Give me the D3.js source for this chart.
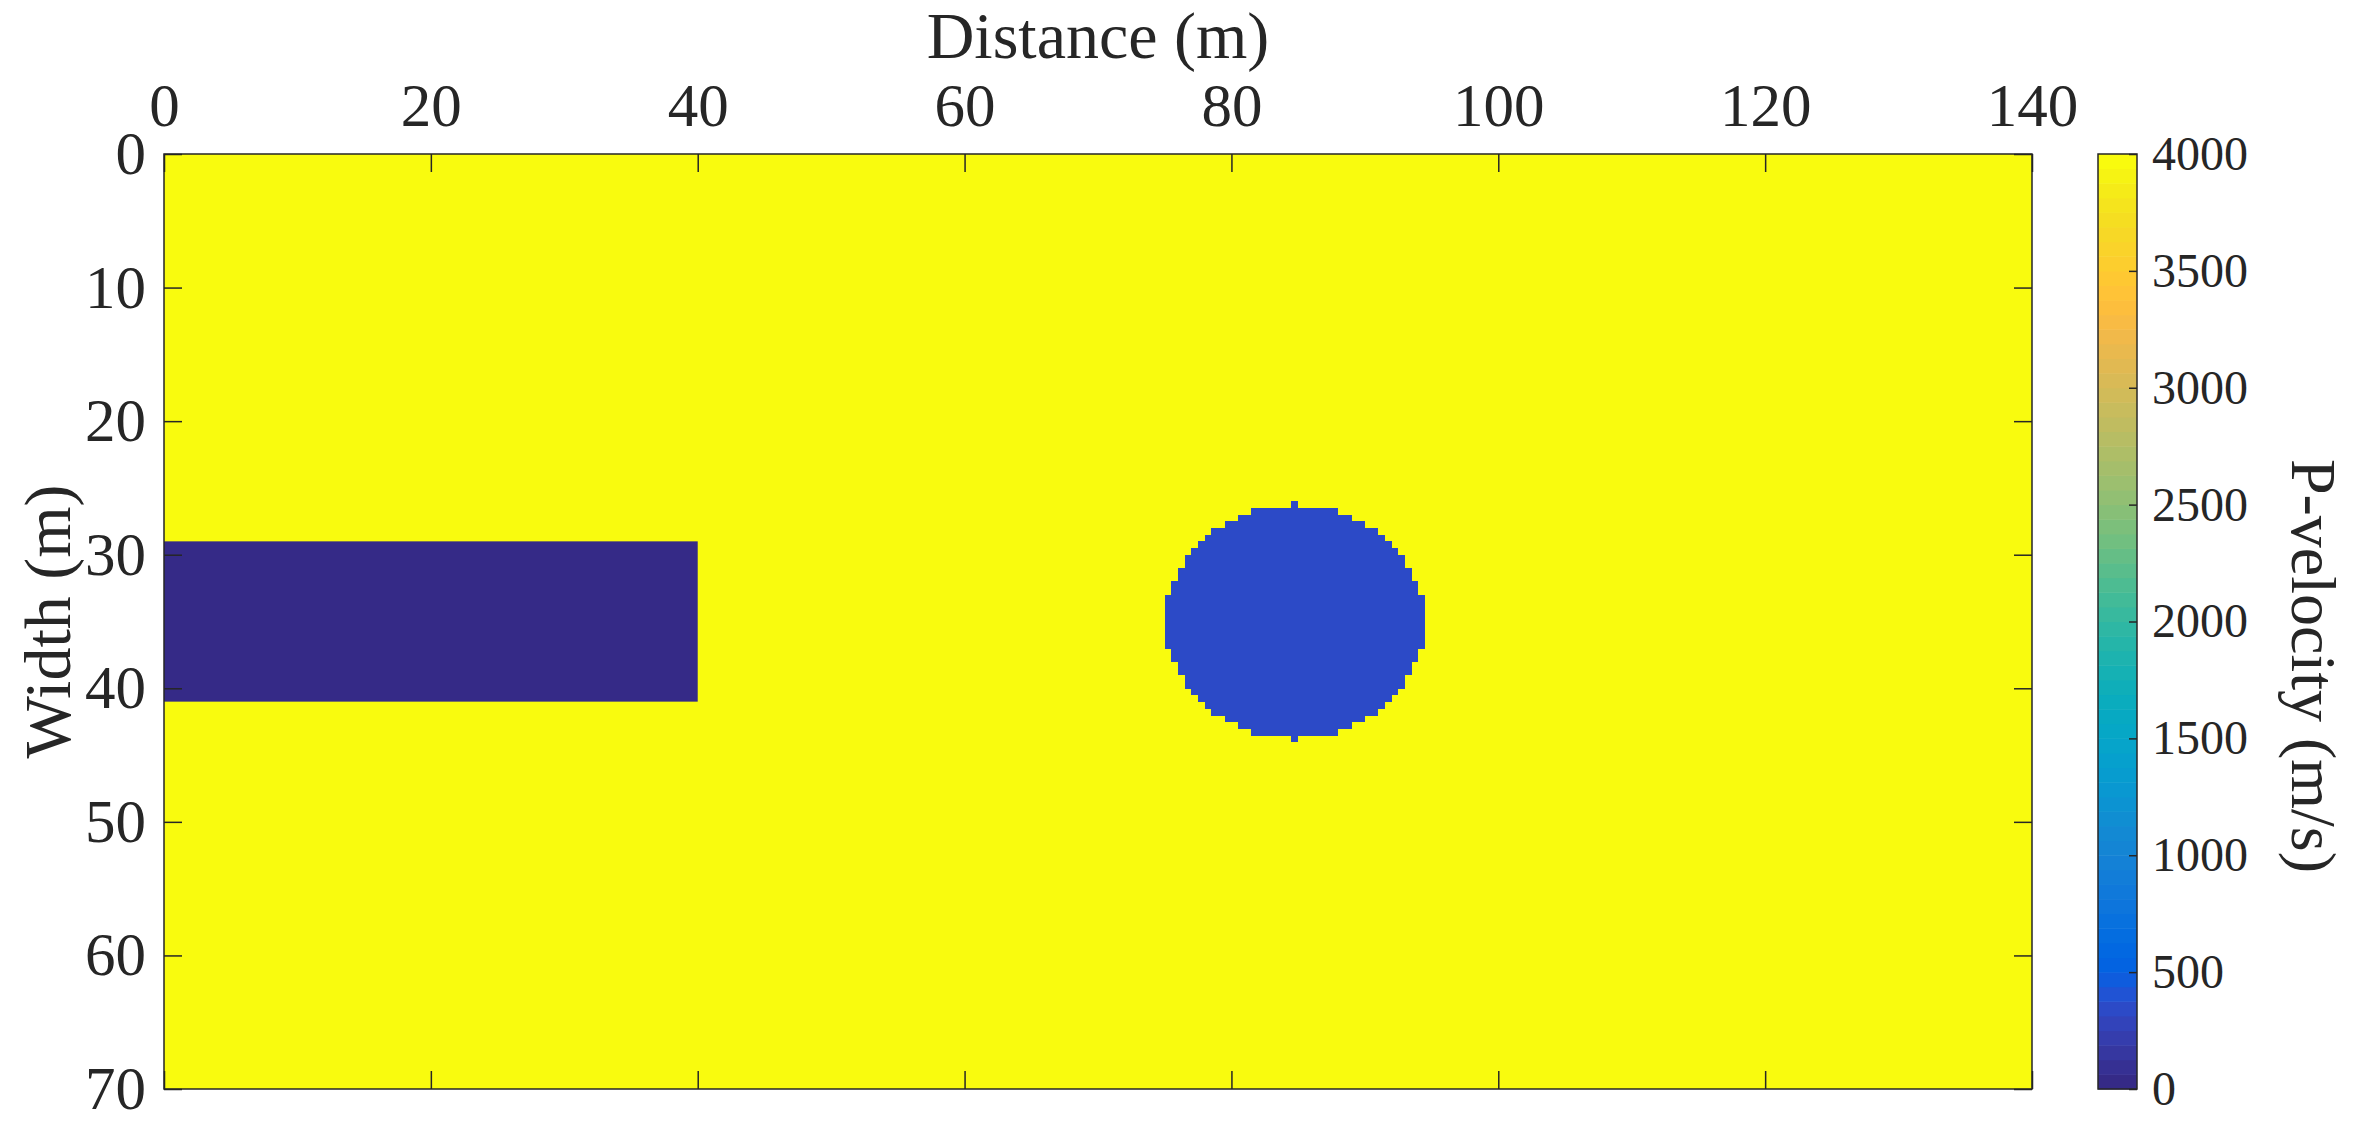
<!DOCTYPE html>
<html>
<head>
<meta charset="utf-8">
<script src="https://cdn.jsdelivr.net/npm/d3@7"></script>
<style>
  body { margin: 0; background: #fff; }
  svg text { font-family: 'Liberation Serif', 'Times New Roman', serif; fill: #262626; }
  .axis text { font-size: 61px; }
  .cb-axis text { font-size: 48px; }
  .axis-title { font-size: 66px; }
  .cb-title { font-size: 64px; }
  .axis line, .cb-axis line { stroke: #262626; stroke-width: 1.5; }
</style>
</head>
<body>
<div id="chart"></div>
<script>
// model extent (m) and ticks
const xDomain = [0, 140];
const yDomain = [0, 70];
const xTicks = [0, 20, 40, 60, 80, 100, 120, 140];
const yTicks = [0, 10, 20, 30, 40, 50, 60, 70];
const cbTicks = [0, 500, 1000, 1500, 2000, 2500, 3000, 3500, 4000];
const cbDomain = [0, 4000];

// background medium velocity (m/s)
const backgroundVelocity = 4000;

// rectangular block (tunnel)
const tunnelX = [0, 40];
const tunnelY = [29, 41];
const tunnelVelocity = 0;

// circular void, stored row by row (0.5 m cells)
const voidVelocity = 340;
const voidRowTop    = [26, 26.5, 27, 27.5, 28, 28.5, 29, 29.5, 30, 31, 32, 33, 37, 38, 39, 40, 40.5, 41, 41.5, 42, 42.5, 43, 43.5];
const voidRowBottom = [26.5, 27, 27.5, 28, 28.5, 29, 29.5, 30, 31, 32, 33, 37, 38, 39, 40, 40.5, 41, 41.5, 42, 42.5, 43, 43.5, 44];
const voidRowLeft   = [84.5, 81.5, 80.5, 79.5, 78.5, 78, 77.5, 77, 76.5, 76, 75.5, 75, 75.5, 76, 76.5, 77, 77.5, 78, 78.5, 79.5, 80.5, 81.5, 84.5];
const voidRowRight  = [85, 88, 89, 90, 91, 91.5, 92, 92.5, 93, 93.5, 94, 94.5, 94, 93.5, 93, 92.5, 92, 91.5, 91, 90, 89, 88, 85];

// parula colormap, 64 entries
const parula = ['#352a87','#363093','#3637a0','#353dad','#3243ba','#2c4ac7','#2053d4','#0f5cdd',
  '#0363e1','#0268e1','#046de0','#0871de','#0d75dc','#1079da','#127dd8','#1481d6',
  '#1485d4','#1389d3','#108ed2','#0c93d2','#0998d1','#079ccf','#06a0cd','#06a4ca',
  '#06a7c6','#07a9c2','#0aacbe','#0faeb9','#15b1b4','#1db3af','#25b5a9','#2eb7a4',
  '#38b99e','#42bb98','#4dbc92','#59bd8c','#65be86','#71bf80','#7cbf7b','#87bf77',
  '#92bf73','#9cbf6f','#a5be6b','#aebe67','#b7bd64','#c0bc60','#c8bc5d','#d1bb59',
  '#d9ba56','#e1b952','#e9b94e','#f1b94a','#f8bb44','#fdbe3d','#ffc337','#fec832',
  '#fcce2e','#fad32a','#f7d826','#f5de21','#f5e41d','#f5eb18','#f6f313','#f9fb0e'];

const W = 2354, H = 1132;
const plot = { left: 164, top: 154, width: 1868, height: 935 };
const cb = { left: 2098, width: 39 };

// MATLAB-style direct colour lookup
const colorOf = v => {
  const n = parula.length;
  let i = Math.floor((v - cbDomain[0]) / (cbDomain[1] - cbDomain[0]) * n);
  return parula[Math.max(0, Math.min(n - 1, i))];
};

const svg = d3.select('#chart').append('svg')
  .attr('width', W)
  .attr('height', H);

const x = d3.scaleLinear().domain(xDomain).range([plot.left, plot.left + plot.width]);
const y = d3.scaleLinear().domain(yDomain).range([plot.top, plot.top + plot.height]);

// background
svg.append('rect')
  .attr('x', x(xDomain[0])).attr('y', y(yDomain[0]))
  .attr('width', x(xDomain[1]) - x(xDomain[0]))
  .attr('height', y(yDomain[1]) - y(yDomain[0]))
  .attr('fill', colorOf(backgroundVelocity));

// tunnel block
svg.append('rect')
  .attr('x', x(tunnelX[0])).attr('y', y(tunnelY[0]))
  .attr('width', x(tunnelX[1]) - x(tunnelX[0]))
  .attr('height', y(tunnelY[1]) - y(tunnelY[0]))
  .attr('fill', colorOf(tunnelVelocity));

// void rows
const voidRows = voidRowTop.map((t, i) => ({ top: t, bottom: voidRowBottom[i], left: voidRowLeft[i], right: voidRowRight[i] }));
svg.append('g').selectAll('rect')
  .data(voidRows)
  .join('rect')
  .attr('x', d => x(d.left))
  .attr('y', d => y(d.top))
  .attr('width', d => x(d.right) - x(d.left))
  .attr('height', d => y(d.bottom) - y(d.top) + 0.5)
  .attr('fill', colorOf(voidVelocity))
  .attr('shape-rendering', 'crispEdges');

// axes (ticks inside, labels top/left)
const tickLen = 18;
svg.append('g').attr('class', 'axis')
  .attr('transform', `translate(0,${plot.top})`)
  .call(d3.axisTop(x).tickValues(xTicks).tickSize(-tickLen).tickPadding(28).tickFormat(d3.format('d')))
  .call(g => g.select('.domain').remove());
svg.append('g').attr('class', 'axis')
  .attr('transform', `translate(0,${plot.top + plot.height})`)
  .call(d3.axisBottom(x).tickValues(xTicks).tickSize(-tickLen).tickFormat(''))
  .call(g => g.select('.domain').remove());
svg.append('g').attr('class', 'axis')
  .attr('transform', `translate(${plot.left},0)`)
  .call(d3.axisLeft(y).tickValues(yTicks).tickSize(-tickLen).tickPadding(18).tickFormat(d3.format('d')))
  .call(g => g.select('.domain').remove());
svg.append('g').attr('class', 'axis')
  .attr('transform', `translate(${plot.left + plot.width},0)`)
  .call(d3.axisRight(y).tickValues(yTicks).tickSize(-tickLen).tickFormat(''))
  .call(g => g.select('.domain').remove());

svg.selectAll('.axis .tick text').attr('fill', '#262626');

// plot box
svg.append('rect')
  .attr('x', plot.left).attr('y', plot.top)
  .attr('width', plot.width).attr('height', plot.height)
  .attr('fill', 'none').attr('stroke', '#262626').attr('stroke-width', 1.5);

// colorbar
const cbScale = d3.scaleLinear().domain(cbDomain).range([plot.top + plot.height, plot.top]);
const step = (cbDomain[1] - cbDomain[0]) / parula.length;
svg.append('g').selectAll('rect')
  .data(parula)
  .join('rect')
  .attr('x', cb.left)
  .attr('y', (c, i) => cbScale(cbDomain[0] + (i + 1) * step))
  .attr('width', cb.width)
  .attr('height', (c, i) => cbScale(cbDomain[0] + i * step) - cbScale(cbDomain[0] + (i + 1) * step) + 0.5)
  .attr('fill', c => c);

svg.append('g').attr('class', 'cb-axis')
  .attr('transform', `translate(${cb.left + cb.width},0)`)
  .call(d3.axisRight(cbScale).tickValues(cbTicks).tickSize(-8).tickPadding(15).tickFormat(d3.format('d')))
  .call(g => g.select('.domain').remove())
  .call(g => g.selectAll('text').attr('fill', '#262626'));

svg.append('rect')
  .attr('x', cb.left).attr('y', plot.top)
  .attr('width', cb.width).attr('height', plot.height)
  .attr('fill', 'none').attr('stroke', '#262626').attr('stroke-width', 1.5);

// titles
svg.append('text')
  .attr('class', 'axis-title')
  .attr('x', plot.left + plot.width / 2)
  .attr('y', 58)
  .style('text-anchor', 'middle')
  .text('Distance (m)');

svg.append('text')
  .attr('class', 'axis-title')
  .attr('transform', `translate(70,${plot.top + plot.height / 2}) rotate(-90)`)
  .style('text-anchor', 'middle')
  .text('Width (m)');

svg.append('text')
  .attr('class', 'cb-title')
  .attr('transform', `translate(2292,666) rotate(90)`)
  .style('text-anchor', 'middle')
  .text('P-velocity (m/s)');
</script>
</body>
</html>
